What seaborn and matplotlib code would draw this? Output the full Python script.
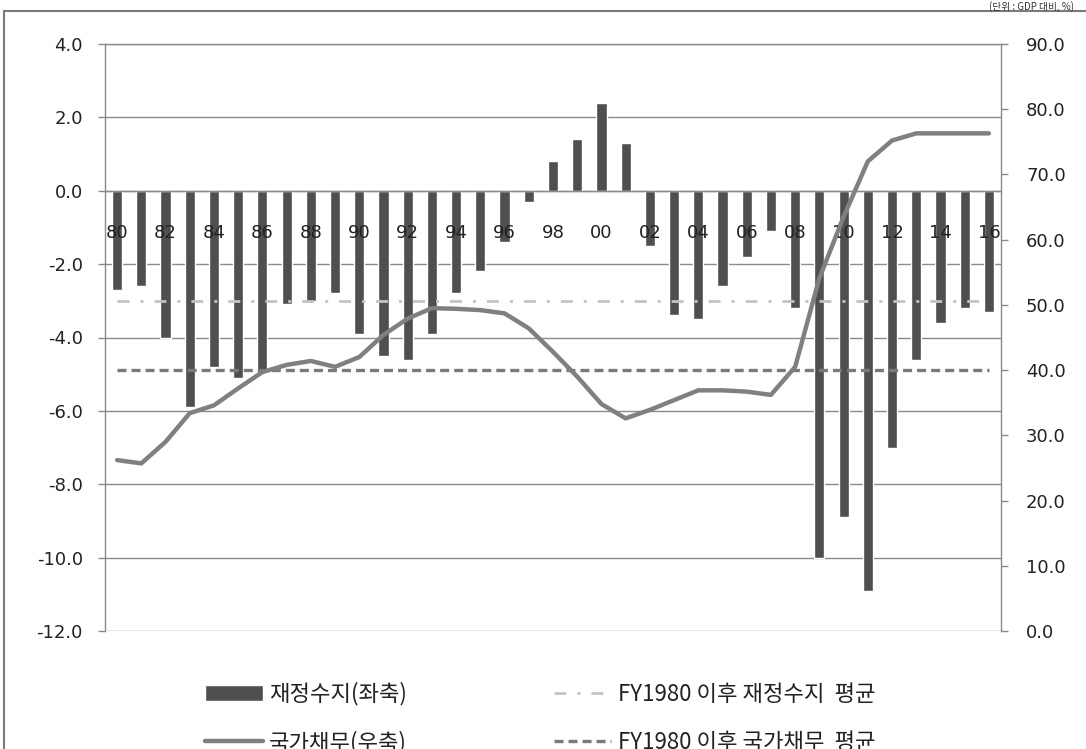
import numpy as np
import pandas as pd
import matplotlib.pyplot as plt
import seaborn as sns
from matplotlib.patches import Rectangle
from matplotlib.ticker import FixedLocator, FormatStrFormatter

# Data
years = ['80', '81', '82', '83', '84', '85', '86', '87', '88', '89',
         '90', '91', '92', '93', '94', '95', '96', '97', '98', '99',
         '00', '01', '02', '03', '04', '05', '06', '07', '08', '09',
         '10', '11', '12', '13', '14', '15', '16']
balance = [-2.7, -2.6, -4.0, -5.9, -4.8, -5.1, -4.9, -3.1, -3.0, -2.8,
           -3.9, -4.5, -4.6, -3.9, -2.8, -2.2, -1.4, -0.3, 0.8, 1.4,
           2.4, 1.3, -1.5, -3.4, -3.5, -2.6, -1.8, -1.1, -3.2, -10.0,
           -8.9, -10.9, -7.0, -4.6, -3.6, -3.2, -3.3]
debt = [26.2, 25.7, 29.0, 33.4, 34.6, 37.2, 39.7, 40.8, 41.4, 40.5,
        42.0, 45.4, 47.9, 49.5, 49.4, 49.2, 48.7, 46.4, 42.8, 39.0,
        34.8, 32.6, 33.9, 35.4, 36.9, 36.9, 36.7, 36.2, 40.5, 54.1,
        63.5, 72.0, 75.2, 76.3, 76.3, 76.3, 76.3]
balance_avg = -3.0
debt_avg = 40.0
shown_years = years[::2]

label_bal = '재정수지(좌축)'
label_debt = '국가채무(우축)'
label_bal_avg = 'FY1980 이후 재정수지  평균'
label_debt_avg = 'FY1980 이후 국가채무  평균'

df = pd.DataFrame({'year': years, 'balance': balance, 'debt': debt,
                   'idx': np.arange(len(years))})

sns.set_style('white')
plt.rcParams['font.family'] = ['DejaVu Sans', 'Noto Sans CJK KR']
plt.rcParams['lines.scale_dashes'] = False

axis_gray = '#8a8a8a'
text_col = '#222222'
kr_font = ['Noto Sans CJK KR', 'DejaVu Sans']

fig = plt.figure(figsize=(10.86, 7.49), dpi=100)
ax = fig.add_axes([105 / 1086, 1 - 631 / 749, (1001 - 105) / 1086, (631 - 44) / 749])

# bars (left axis)
sns.barplot(data=df, x='year', y='balance', order=years, color='#4f4f4f',
            saturation=1, width=0.42, ax=ax, label=label_bal, zorder=1)
ax.set_xlim(-0.5, len(years) - 0.5)
ax.set_ylim(-12, 4)
left_ticks = np.arange(-12, 4.1, 2)
ax.set_yticks(left_ticks)
ax.yaxis.set_major_formatter(FormatStrFormatter('%.1f'))

# horizontal gridlines kept under the bars, tick labels above them
ax.grid(False)
for t in left_ticks:
    ax.axhline(t, color=axis_gray, lw=1, zorder=0.5)
ax.set_axisbelow(False)

# fiscal balance average line
sns.lineplot(x=df['idx'], y=[balance_avg] * len(years), ax=ax, color='#c3c3c3',
             lw=2, label=label_bal_avg, zorder=4)
ax.lines[-1].set_dashes([8.6, 7.9, 2.2, 7.9])
if ax.get_legend():
    ax.get_legend().remove()

# x axis drawn on the zero line
ax.spines['bottom'].set_position(('data', 0))
for s in ['bottom', 'left', 'right', 'top']:
    ax.spines[s].set_color(axis_gray)
    ax.spines[s].set_linewidth(1)
ax.set_xticks(np.arange(0, len(years), 2))
ax.set_xticklabels(shown_years)
ax.xaxis.set_minor_locator(FixedLocator(np.arange(-0.5, len(years), 1)))
ax.tick_params(axis='x', which='major', length=0, pad=24, labelsize=13,
               labelcolor=text_col)
ax.tick_params(axis='x', which='minor', length=6, width=1, color=axis_gray,
               direction='out')
ax.tick_params(axis='y', length=5, width=1, color=axis_gray, direction='out',
               left=True, pad=11, labelsize=13, labelcolor=text_col)
ax.set_xlabel('')
ax.set_ylabel('')

# debt line (right axis)
ax2 = ax.twinx()
sns.lineplot(x=df['idx'], y=df['debt'], ax=ax2, color='#808080', lw=3.2,
             label=label_debt, zorder=5)
sns.lineplot(x=df['idx'], y=[debt_avg] * len(years), ax=ax2, color='#7a7a7a',
             lw=2.4, label=label_debt_avg, zorder=4)
ax2.lines[-1].set_dashes([6.5, 3.6])
if ax2.get_legend():
    ax2.get_legend().remove()
ax2.set_ylim(0, 90)
ax2.set_yticks(np.arange(0, 90.1, 10))
ax2.yaxis.set_major_formatter(FormatStrFormatter('%.1f'))
ax2.tick_params(axis='y', length=5, width=1, color=axis_gray, direction='out',
                right=True, pad=13, labelsize=13, labelcolor=text_col)
ax2.grid(False)
ax2.set_ylabel('')
for s in ax2.spines.values():
    s.set_visible(False)

# legend at the bottom (second row runs off the lower edge as in the reference)
h1, l1 = ax.get_legend_handles_labels()
h2, l2 = ax2.get_legend_handles_labels()
handles = dict(zip(l1 + l2, h1 + h2))
order = [label_bal, label_debt, label_bal_avg, label_debt_avg]
fig.legend([handles[k] for k in order], order, ncol=2, frameon=False,
           loc='upper left', bbox_to_anchor=(205 / 1086, 1 - 682 / 749),
           prop={'family': kr_font, 'size': 16},
           handlelength=2.6, handletextpad=0.28, labelspacing=1.12,
           columnspacing=6.6, borderpad=0, borderaxespad=0,
           labelcolor=text_col)

# outer chart frame and unit note at the top edge
fig.patches.append(Rectangle((4 / 1086, -0.2), 1.5, 1.2 - 11 / 749,
                             transform=fig.transFigure, fill=False,
                             edgecolor='#7a7a7a', lw=1.5))
fig.text(1074 / 1086, 1 - 1 / 749, '(단위 : GDP 대비, %)', ha='right', va='top',
         fontsize=7, family=kr_font, color='#333333')

plt.savefig('out.png', dpi=100)
